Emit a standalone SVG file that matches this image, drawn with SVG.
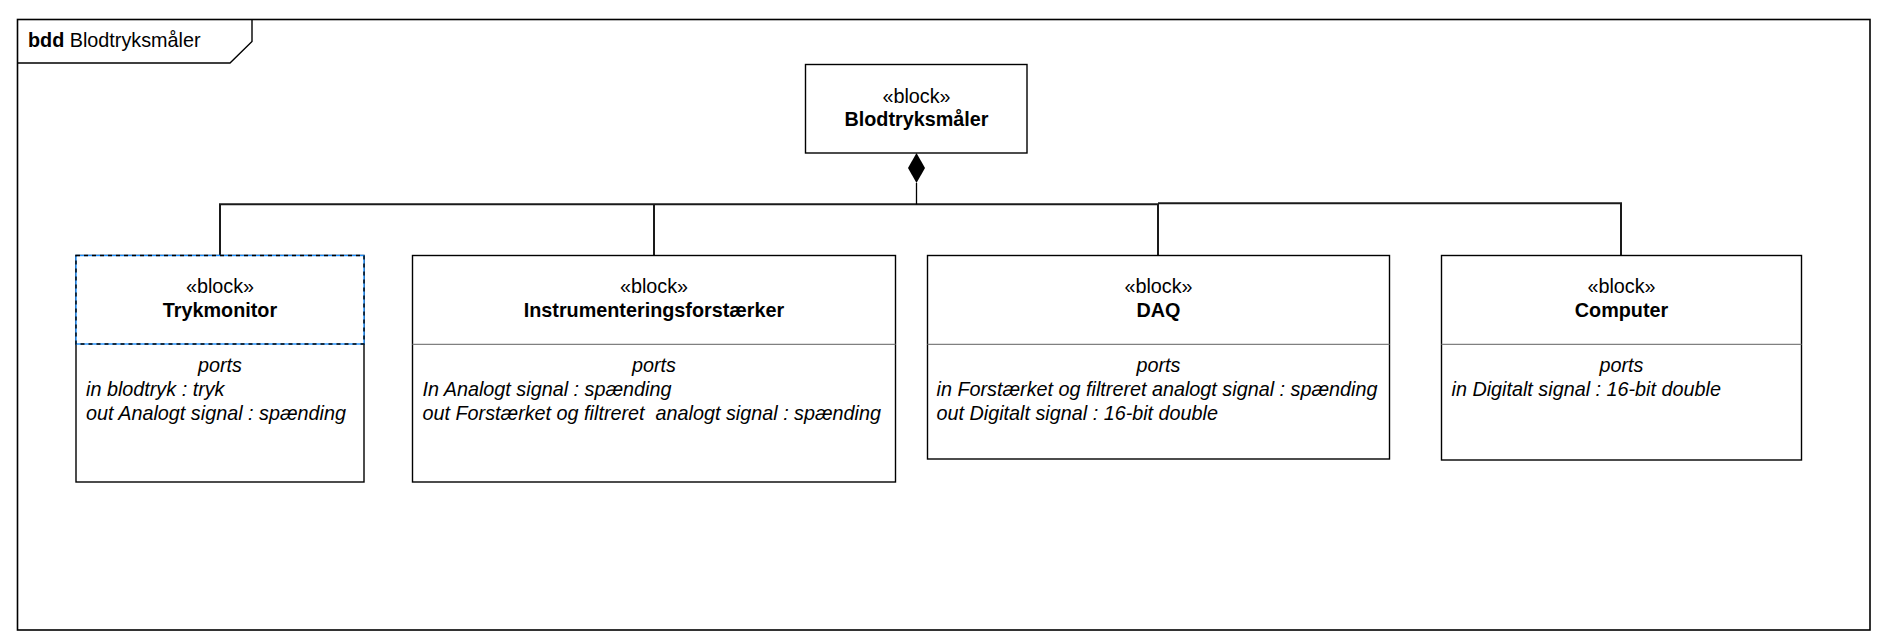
<svg xmlns="http://www.w3.org/2000/svg" width="1888" height="644" viewBox="0 0 1888 644">
<style>
text{font-family:"Liberation Sans",Arial,sans-serif;font-size:19.8px;fill:#000}
.c{text-anchor:middle}
.b{font-weight:bold}
.i{font-style:italic}
.box{fill:#fff;stroke:#000;stroke-width:1.4}
.sep{stroke:#808080;stroke-width:1.2}
.conn{fill:none;stroke:#1a1a1a;stroke-width:2}
</style>
<rect width="1888" height="644" fill="#fff"/>
<g id="frame">
<rect x="17.5" y="19.5" width="1852.5" height="610.5" fill="none" stroke="#000" stroke-width="1.6"/>
<path d="M17.5,63 H230 L252,41.5 V19.5" fill="none" stroke="#000" stroke-width="1.4"/>
<text x="28" y="47"><tspan class="b">bdd</tspan> Blodtryksmåler</text>
</g>
<g id="connectors">
<path class="conn" d="M220,255.5 V204.3 H1158 V255.5"/>
<path class="conn" d="M654,204.3 V255.5"/>
<path class="conn" d="M1158,203.3 H1621 V255.5"/>
<line x1="916.5" y1="183" x2="916.5" y2="204.3" stroke="#000" stroke-width="1.3"/>
<polygon points="916.5,153 925,168 916.5,183 908,168" fill="#000"/>
</g>
<g id="Blodtryksmaler">
<rect class="box" x="805.5" y="64.5" width="221.5" height="88.5"/>
<text class="c" x="916.5" y="103">«block»</text>
<text class="c b" x="916.5" y="126">Blodtryksmåler</text>
</g>
<g id="Trykmonitor">
<rect class="box" x="76" y="255.5" width="288" height="226.5"/>
<rect x="76" y="255.5" width="288" height="88.5" fill="#fff" stroke="#1e90ff" stroke-width="1.4"/>
<rect x="76" y="255.5" width="288" height="88.5" fill="none" stroke="#000" stroke-width="1.4" stroke-dasharray="4 4"/>
<text class="c" x="220" y="293">«block»</text>
<text class="c b" x="220" y="317">Trykmonitor</text>
<text class="c i" x="220" y="371.5">ports</text>
<text class="i" x="86" y="395.5">in blodtryk : tryk</text>
<text class="i" x="86" y="419.5">out Analogt signal : spænding</text>
</g>
<g id="Instrumenteringsforstaerker">
<rect class="box" x="412.5" y="255.5" width="483" height="226.5"/>
<line class="sep" x1="412.5" y1="344.3" x2="895.5" y2="344.3"/>
<text class="c" x="654" y="293">«block»</text>
<text class="c b" x="654" y="317">Instrumenteringsforstærker</text>
<text class="c i" x="654" y="371.5">ports</text>
<text class="i" x="422.5" y="395.5">In Analogt signal : spænding</text>
<text class="i" x="422.5" y="419.5" xml:space="preserve">out Forstærket og filtreret  analogt signal : spænding</text>
</g>
<g id="DAQ">
<rect class="box" x="927.5" y="255.5" width="462" height="203.5"/>
<line class="sep" x1="927.5" y1="344.3" x2="1389.5" y2="344.3"/>
<text class="c" x="1158.5" y="293">«block»</text>
<text class="c b" x="1158.5" y="317">DAQ</text>
<text class="c i" x="1158.5" y="371.5">ports</text>
<text class="i" x="936.5" y="395.5">in Forstærket og filtreret analogt signal : spænding</text>
<text class="i" x="936.5" y="419.5">out Digitalt signal : 16-bit double</text>
</g>
<g id="Computer">
<rect class="box" x="1441.5" y="255.5" width="360" height="204.5"/>
<line class="sep" x1="1441.5" y1="344.3" x2="1801.5" y2="344.3"/>
<text class="c" x="1621.5" y="293">«block»</text>
<text class="c b" x="1621.5" y="317">Computer</text>
<text class="c i" x="1621.5" y="371.5">ports</text>
<text class="i" x="1451.5" y="395.5">in Digitalt signal : 16-bit double</text>
</g>
</svg>
